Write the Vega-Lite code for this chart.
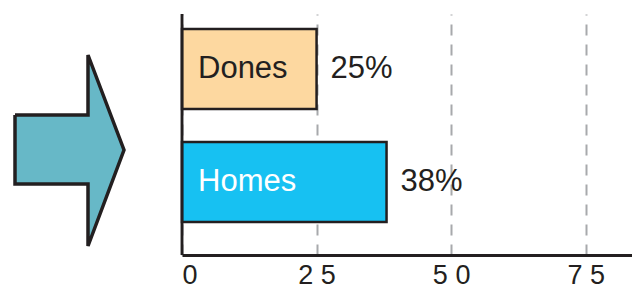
{
  "$schema": "https://vega.github.io/schema/vega-lite/v6.json",
  "background": "white",
  "padding": {"left": 0, "top": 12, "right": 0, "bottom": 0},
  "bounds": "flush",
  "spacing": 0,
  "config": {"view": {"stroke": null}, "font": "Liberation Sans"},
  "datasets": {
    "arrow": [
      {"i": 0, "px": 15, "py": 101},
      {"i": 1, "px": 88, "py": 101},
      {"i": 2, "px": 88, "py": 41},
      {"i": 3, "px": 124, "py": 136},
      {"i": 4, "px": 88, "py": 232},
      {"i": 5, "px": 88, "py": 170},
      {"i": 6, "px": 15, "py": 170},
      {"i": 7, "px": 15, "py": 101}
    ],
    "bars": [
      {"label": "Dones", "value": 25, "pct": "25%"},
      {"label": "Homes", "value": 38, "pct": "38%"}
    ]
  },
  "hconcat": [
    {
      "width": 182,
      "height": 241,
      "data": {"name": "arrow"},
      "mark": {"type": "line", "fill": "#67B8C7", "stroke": "#231F20", "strokeWidth": 3.5, "strokeJoin": "miter"},
      "encoding": {
        "x": {"field": "px", "type": "quantitative", "scale": {"domain": [0, 182], "nice": false}, "axis": null},
        "y": {"field": "py", "type": "quantitative", "scale": {"domain": [0, 241], "nice": false, "reverse": true}, "axis": null},
        "order": {"field": "i", "type": "quantitative"}
      }
    },
    {
      "width": 450,
      "height": 241,
      "data": {"name": "bars"},
      "layer": [
        {
          "mark": {"type": "bar", "stroke": "#231F20", "strokeWidth": 2.5},
          "encoding": {
            "y": {
              "field": "label", "type": "nominal", "axis": null,
              "scale": {"domain": ["Dones", "Homes"], "paddingInner": 0.292, "paddingOuter": 0.2124, "align": 0.3125}
            },
            "x": {
              "field": "value", "type": "quantitative",
              "scale": {"domain": [0, 83.6], "nice": false},
              "axis": {
                "values": [0, 25, 50, 75],
                "title": null,
                "grid": true, "gridDash": [11, 9], "gridColor": "#A7A9AC", "gridWidth": 2,
                "domain": true, "domainColor": "#231F20", "domainWidth": 3,
                "ticks": false,
                "labelFontSize": 27, "labelColor": "#231F20", "labelPadding": 7,
                "labelExpr": "datum.value === 0 ? '0' : join(split(datum.label, ''), ' ')"
              }
            },
            "fill": {
              "field": "label", "type": "nominal",
              "scale": {"domain": ["Dones", "Homes"], "range": ["#FDD8A0", "#17C1F2"]},
              "legend": null
            }
          }
        },
        {
          "mark": {"type": "text", "align": "left", "baseline": "middle", "dx": 16, "fontSize": 31},
          "encoding": {
            "y": {"field": "label", "type": "nominal"},
            "x": {"datum": 0},
            "text": {"field": "label"},
            "color": {"condition": {"test": "datum.label === 'Homes'", "value": "white"}, "value": "#231F20"}
          }
        },
        {
          "mark": {"type": "text", "align": "left", "baseline": "middle", "dx": 14, "fontSize": 31, "color": "#231F20"},
          "encoding": {
            "y": {"field": "label", "type": "nominal"},
            "x": {"field": "value", "type": "quantitative"},
            "text": {"field": "pct"}
          }
        },
        {
          "mark": {"type": "rule", "stroke": "#231F20", "strokeWidth": 2.5},
          "encoding": {"x": {"datum": 0}}
        }
      ]
    }
  ]
}
